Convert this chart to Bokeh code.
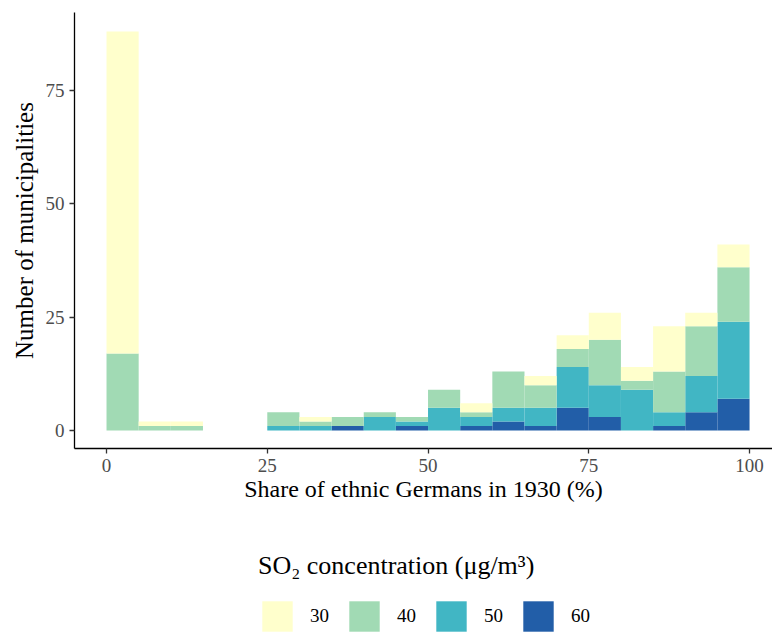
from bokeh.plotting import figure
from bokeh.models import Range1d, FixedTicker, Legend, LegendItem, ColumnDataSource
from bokeh.layouts import column
from bokeh.embed import file_html
from bokeh.resources import INLINE

# ---- data ----
bin_width = 5
bin_left = [0, 5, 10, 15, 20, 25, 30, 35, 40, 45, 50, 55, 60, 65, 70, 75, 80, 85, 90, 95]
so2_levels = ["30", "40", "50", "60"]
so2_colors = ["#FFFFCC", "#A1DAB4", "#41B6C4", "#225EA8"]
count_30 = [71, 1, 1, 0, 0, 0, 1, 0, 0, 0, 0, 2, 0, 2, 3, 6, 3, 10, 3, 5]
count_40 = [17, 1, 1, 0, 0, 3, 1, 2, 1, 1, 4, 1, 8, 5, 4, 10, 2, 9, 11, 12]
count_50 = [0, 0, 0, 0, 0, 1, 1, 0, 3, 1, 5, 2, 3, 4, 9, 7, 9, 3, 8, 17]
count_60 = [0, 0, 0, 0, 0, 0, 0, 1, 0, 1, 0, 1, 2, 1, 5, 3, 0, 1, 4, 7]
x_ticks = [0, 25, 50, 75, 100]
y_ticks = [0, 25, 50, 75]

FONT = "Liberation Serif"
NAN = float("nan")

src = ColumnDataSource(dict(
    x=[b + bin_width / 2 for b in bin_left],
    c30=count_30, c40=count_40, c50=count_50, c60=count_60,
))

p = figure(width=772, height=528,
           x_range=Range1d(-4.98, 103.57), y_range=Range1d(-3.97, 92.2),
           output_backend="svg", toolbar_location=None,
           min_border_left=74, min_border_right=0, min_border_top=12, min_border_bottom=80)

stack_keys = ["c60", "c50", "c40", "c30"]
stack_colors = [so2_colors[3], so2_colors[2], so2_colors[1], so2_colors[0]]
p.vbar_stack(stack_keys, x="x", width=bin_width, source=src,
             fill_color=stack_colors, line_color=None)

p.xgrid.visible = False
p.ygrid.visible = False
p.outline_line_color = None
p.background_fill_color = "white"
p.border_fill_color = "white"

p.xaxis.ticker = FixedTicker(ticks=x_ticks)
p.yaxis.ticker = FixedTicker(ticks=y_ticks)
p.xaxis.axis_label = "Share of ethnic Germans in 1930 (%)"
p.yaxis.axis_label = "Number of municipalities"
for ax in (p.xaxis, p.yaxis):
    ax.axis_line_color = "black"
    ax.axis_line_width = 1.3
    ax.major_tick_line_color = "#333333"
    ax.major_tick_line_width = 1.3
    ax.major_tick_out = 5
    ax.major_tick_in = 0
    ax.minor_tick_line_color = None
    ax.major_label_text_font = FONT
    ax.major_label_text_font_size = "19px"
    ax.major_label_text_color = "#4D4D4D"
    ax.major_label_standoff = 5
    ax.axis_label_text_font = FONT
    ax.axis_label_text_font_style = "normal"
    ax.axis_label_text_color = "black"
p.xaxis.axis_label_text_font_size = "24px"
p.yaxis.axis_label_text_font_size = "25px"
p.xaxis.axis_label_standoff = 1
p.yaxis.axis_label_standoff = 5

# ---- legend panel ----
leg = figure(width=772, height=109, x_range=Range1d(0, 1), y_range=Range1d(0, 1),
             output_backend="svg", toolbar_location=None,
             x_axis_type=None, y_axis_type=None,
             min_border_left=0, min_border_right=0, min_border_top=0, min_border_bottom=0)
leg.xgrid.visible = False
leg.ygrid.visible = False
leg.outline_line_color = None

items = []
for lvl, col in zip(so2_levels, so2_colors):
    r = leg.quad(left=[NAN], right=[NAN], top=[NAN], bottom=[NAN],
                 fill_color=col, line_color=None)
    items.append(LegendItem(label=lvl, renderers=[r]))

legend = Legend(items=items, orientation="horizontal", location=(184, 2),
                title="SO\u2082 concentration (\u03bcg/m\u00b3)",
                title_text_font=FONT, title_text_font_size="26px",
                title_text_font_style="normal", title_text_color="black",
                title_standoff=16,
                label_text_font=FONT, label_text_font_size="19px",
                label_text_color="black",
                label_standoff=14, spacing=15,
                glyph_width=38, glyph_height=38,
                padding=0, margin=0,
                border_line_color=None, background_fill_alpha=0)
leg.add_layout(legend, "center")

layout = column(p, leg, spacing=0)

with open("out.html", "w") as f:
    f.write(file_html(layout, INLINE))
